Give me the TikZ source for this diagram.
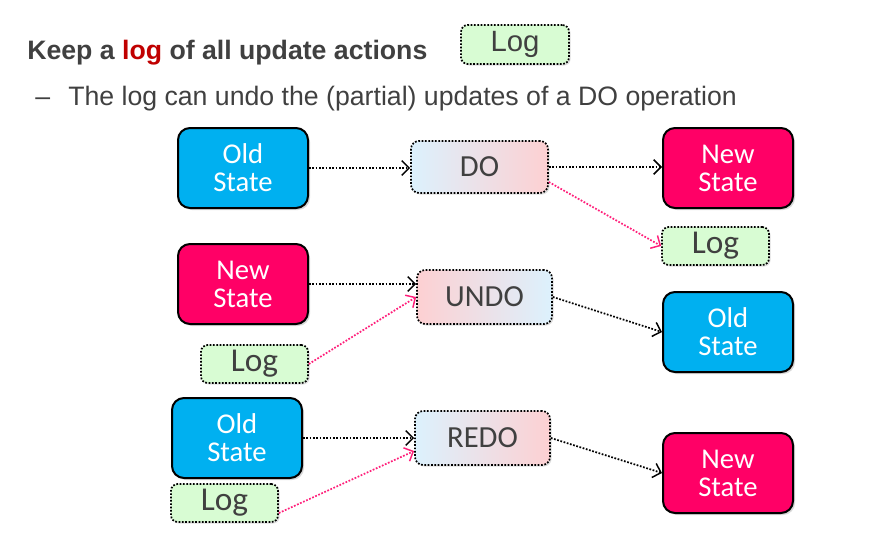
\documentclass[tikz,border=0pt]{standalone}
\usepackage{fontspec}
\setmainfont{Liberation Sans}
\newfontfamily\boxfont{Carlito}
\usetikzlibrary{arrows.meta,shadows}
\definecolor{txtgray}{HTML}{404040}
\definecolor{logred}{HTML}{C00000}
\definecolor{stblue}{HTML}{00B0F0}
\definecolor{stpink}{HTML}{FF0066}
\definecolor{lggreen}{HTML}{D8FCD3}
\definecolor{gblue}{HTML}{DCF1FD}
\definecolor{gpink}{HTML}{FDD0D2}
\definecolor{arrpink}{HTML}{FF1F7A}
\begin{document}
\begin{tikzpicture}[x=0.75pt,y=-0.75pt,
  dots/.style={dash pattern=on 1.3pt off 1.2pt},
  statebox/.style={draw=black, line width=1.5pt, rounded corners=9pt,
    minimum width=97.5pt, minimum height=60pt, inner sep=0pt, align=center,
    text=white, font=\boxfont\fontsize{21.5}{21}\selectfont,
    drop shadow={shadow xshift=1.5pt, shadow yshift=-1.5pt, opacity=0.3}},
  oldst/.style={statebox, fill=stblue},
  newst/.style={statebox, fill=stpink},
  opbox/.style={draw=black, dots, line width=1.3pt, rounded corners=6pt,
    minimum height=39pt, inner sep=0pt, text=txtgray,
    font=\boxfont\fontsize{23}{24}\selectfont,
    drop shadow={shadow xshift=1.2pt, shadow yshift=-1.2pt, opacity=0.25}},
  bluepink/.style={opbox, left color=gblue, right color=gpink},
  pinkblue/.style={opbox, left color=gpink, right color=gblue},
  logbox/.style={draw=black, dots, line width=1.3pt, rounded corners=5pt,
    fill=lggreen, minimum width=80.25pt, minimum height=28.5pt, inner sep=0pt,
    text=txtgray, font=\boxfont\fontsize{25}{26}\selectfont,
    drop shadow={shadow xshift=1.2pt, shadow yshift=-1.2pt, opacity=0.25}},
  flow/.style={draw=black, dots, line width=1.3pt,
    -{Straight Barb[length=5.5pt,width=11pt,line width=1.1pt]}},
  logflow/.style={draw=arrpink, dots, line width=1.3pt,
    -{Straight Barb[length=5.5pt,width=11pt,line width=1.1pt]}}
]
\useasboundingbox (0,0) rectangle (878,542);

% header
\node[anchor=base west, inner sep=0pt, text=txtgray,
  font=\fontsize{20}{24}\selectfont\bfseries] (title) at (27,60)
  {Keep a \textcolor{logred}{log} of all update actions};
\node[draw=black, dots, line width=1.3pt, rounded corners=5pt, fill=lggreen,
  minimum width=81pt, minimum height=29.25pt, inner sep=0pt, text=txtgray,
  font=\fontsize{22}{24}\selectfont,
  drop shadow={shadow xshift=1.2pt, shadow yshift=-1.2pt, opacity=0.25}]
  (toplog) at (515,44.5) {Log};
\node[anchor=base west, inner sep=0pt, text=txtgray,
  font=\fontsize{20}{24}\selectfont] (dash) at (35,106) {–};
\node[anchor=base west, inner sep=0pt, text=txtgray,
  font=\fontsize{20}{24}\selectfont] (sub) at (68,106)
  {The log can undo the (partial) updates of a DO operation};

% row 1
\node[oldst] (o1) at (243,168) {Old\\State};
\node[bluepink, minimum width=102.75pt] (do) at (479.5,167) {DO};
\node[newst] (n1) at (728,168) {New\\State};
\node[logbox] (l1) at (715.5,246) {Log};
\draw[flow] (o1.east) -- (o1.east -| do.west);
\draw[flow] (do.east) -- (do.east -| n1.west);
\draw[logflow] ([yshift=-11.25pt]do.east) -- (l1.west);

% row 2
\node[newst] (n2) at (243,284) {New\\State};
\node[pinkblue, minimum width=101.25pt, minimum height=40.5pt] (u) at (484.5,297) {UNDO};
\node[logbox] (l2) at (254.5,364) {Log};
\node[oldst] (o2) at (728,332) {Old\\State};
\draw[flow] (n2.east) -- (n2.east -| u.west);
\draw[logflow] (l2.east) -- (u.west);
\draw[flow] (u.east) -- (o2.west);

% row 3
\node[oldst] (o3) at (237,438) {Old\\State};
\node[bluepink, minimum width=101.25pt, minimum height=40.5pt] (r) at (482.5,438) {REDO};
\node[logbox] (l3) at (224.5,503) {Log};
\node[newst] (n3) at (728,473) {New\\State};
\draw[flow] (o3.east) -- (o3.east -| r.west);
\draw[logflow] ([yshift=-7.5pt]l3.east) -- ([yshift=-9.75pt]r.west);
\draw[flow] (r.east) -- (n3.west);
\end{tikzpicture}
\end{document}
